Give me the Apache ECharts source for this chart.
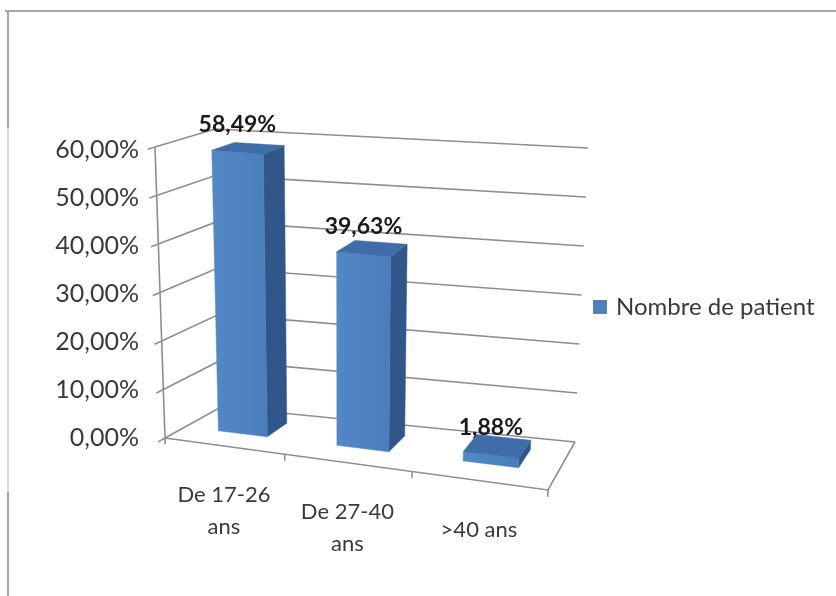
<!DOCTYPE html>
<html>
<head>
<meta charset="utf-8">
<title>Nombre de patient par tranche d'âge</title>
<script src="https://cdn.jsdelivr.net/npm/echarts@6/dist/echarts.min.js"></script>
<style>
  html, body { margin: 0; padding: 0; background: #ffffff; }
  #chart { width: 836px; height: 596px; }
</style>
</head>
<body>
<div id="chart"></div>
<script>
// ---- data ----
const categories = ['De 17-26\nans', 'De 27-40\nans', '>40 ans'];
const patientShare = [58.49, 39.63, 1.88];
const valueTicks = [0, 10, 20, 30, 40, 50, 60];
const seriesName = 'Nombre de patient';

// ---- 3-D view ----
// Screen corners of the plot box: front/back, left/right, bottom/top.
const BOX = {
  flb: [165, 438], frb: [548, 490], blb: [221, 407], brb: [575, 442],
  flt: [155, 147], frt: [559, 182], blt: [215, 129], brt: [588, 148]
};
const PERSPECTIVE_U = 1.1;   // the left side sits farther away
const PERSPECTIVE_Z = 0.75;  // the front sits closer than the back
const BAR_WIDTH = 0.42;      // share of a category band
const BAR_DEPTH = [0.3, 0.7];
const TICK_DEPTH = -0.09;

const COLORS = {
  grid: '#8e8e8e',
  front: '#4A7EBB',
  frontLight: '#5288C6',
  side: '#31578A',
  top: '#3E6DAA',
  axisText: '#3a3a3a',
  labelText: '#1a1a1a'
};
const FONT = 'Lato, "Open Sans", sans-serif';

function warp(t, r) { return t / (t + (1 - t) * r); }
function mix(a, b, t) { return [a[0] + (b[0] - a[0]) * t, a[1] + (b[1] - a[1]) * t]; }
function project(u, w, z) {
  const tu = warp(u, PERSPECTIVE_U);
  const tz = warp(z, PERSPECTIVE_Z);
  const bottom = mix(mix(BOX.flb, BOX.frb, tu), mix(BOX.blb, BOX.brb, tu), tz);
  const top = mix(mix(BOX.flt, BOX.frt, tu), mix(BOX.blt, BOX.brt, tu), tz);
  return mix(bottom, top, w);
}
// Turn a (category, value) pair into box fractions through the chart's own axes.
function toBox(params, api, cat, value) {
  const cs = params.coordSys;
  const p = api.coord([cat, value]);
  return { u: (p[0] - cs.x) / cs.width, w: (cs.y + cs.height - p[1]) / cs.height };
}
function bandFraction(params, api) {
  return api.size([1, 0])[0] / params.coordSys.width;
}
function formatPercent(v) {
  return v.toFixed(2).replace('.', ',') + '%';
}
function line(points, width) {
  return {
    type: 'polyline',
    shape: { points: points },
    style: { stroke: COLORS.grid, lineWidth: width || 1.6, fill: null }
  };
}

// Back-wall and side-wall gridlines, one per axis tick.
function renderWallLine(params, api) {
  const b = toBox(params, api, 0, api.value(1));
  return line([
    project(0, b.w, TICK_DEPTH),
    project(0, b.w, 0),
    project(0, b.w, 1),
    project(1, b.w, 1)
  ]);
}

// Value axis line, floor edges and category ticks.
function renderFrame(params, api) {
  const children = [
    line([project(0, 0, 0), project(0, 1, 0)]),
    line([project(0, 0, 0), project(1, 0, 0), project(1, 0, 1)])
  ];
  const band = bandFraction(params, api);
  for (let k = 0; k <= categories.length; k++) {
    const u = k * band;
    children.push(line([project(u, 0, 0), project(u, -0.022, 0)]));
  }
  return { type: 'group', children: children };
}

// Category names under the front edge of the floor.
function renderCategoryLabel(params, api) {
  const i = api.value(0);
  const b = toBox(params, api, i, 0);
  const anchor = project(b.u, 0, 0);
  return {
    type: 'text',
    x: anchor[0],
    y: anchor[1] + 33,
    style: {
      text: categories[i],
      align: 'center',
      verticalAlign: 'top',
      fontFamily: FONT,
      fontSize: 22,
      lineHeight: 32,
      fill: COLORS.axisText
    }
  };
}

// A 3-D column with its front, right and top faces plus the value label.
function renderColumn(params, api) {
  const i = api.value(0);
  const value = api.value(1);
  const b = toBox(params, api, i, value);
  const half = bandFraction(params, api) * BAR_WIDTH / 2;
  const u0 = b.u - half, u1 = b.u + half;
  const z0 = BAR_DEPTH[0], z1 = BAR_DEPTH[1];
  const w = b.w;
  const face = (pts, fill) => ({
    type: 'polygon',
    shape: { points: pts },
    style: { fill: fill, stroke: fill, lineWidth: 0.5 }
  });
  const front = [project(u0, 0, z0), project(u1, 0, z0), project(u1, w, z0), project(u0, w, z0)];
  const side = [project(u1, 0, z0), project(u1, 0, z1), project(u1, w, z1), project(u1, w, z0)];
  const top = [project(u0, w, z0), project(u1, w, z0), project(u1, w, z1), project(u0, w, z1)];
  const labelAt = project(b.u, w, z0);
  return {
    type: 'group',
    children: [
      face(side, COLORS.side),
      face(front, {
        type: 'linear', x: 0, y: 0, x2: 1, y2: 0,
        colorStops: [
          { offset: 0, color: COLORS.frontLight },
          { offset: 1, color: COLORS.front }
        ]
      }),
      face(top, COLORS.top),
      {
        type: 'text',
        x: labelAt[0],
        y: labelAt[1] - 16,
        style: {
          text: formatPercent(value),
          align: 'center',
          verticalAlign: 'bottom',
          fontFamily: FONT,
          fontWeight: 'bold',
          fontSize: 23,
          fill: COLORS.labelText
        }
      }
    ]
  };
}

const chart = echarts.init(document.getElementById('chart'), null, { renderer: 'canvas' });
chart.setOption({
  animation: false,
  backgroundColor: '#ffffff',
  graphic: [
    { type: 'line', shape: { x1: 5, y1: 11, x2: 836, y2: 11 }, style: { stroke: '#a6a6a6', lineWidth: 2 } },
    { type: 'line', shape: { x1: 8, y1: 10, x2: 8, y2: 128 }, style: { stroke: '#a6a6a6', lineWidth: 2 } },
    { type: 'line', shape: { x1: 8, y1: 128, x2: 8, y2: 492 }, style: { stroke: '#dadada', lineWidth: 2 } },
    { type: 'line', shape: { x1: 8, y1: 492, x2: 8, y2: 596 }, style: { stroke: '#a6a6a6', lineWidth: 2 } }
  ],
  legend: {
    data: [seriesName],
    left: 593,
    top: 295,
    padding: 0,
    icon: 'rect',
    itemWidth: 14,
    itemHeight: 14,
    textStyle: { fontFamily: FONT, fontSize: 24, color: COLORS.axisText, padding: [0, 0, 0, 4] }
  },
  grid: { left: 155, top: 150, width: 393, height: 288 },
  xAxis: { type: 'category', data: categories, show: false },
  yAxis: {
    type: 'value',
    min: 0,
    max: 60,
    interval: 10,
    axisLine: { show: false },
    axisTick: { show: false },
    splitLine: { show: false },
    axisLabel: {
      formatter: formatPercent,
      fontFamily: FONT,
      fontSize: 25,
      color: COLORS.axisText,
      margin: 16
    }
  },
  series: [
    {
      type: 'custom', name: 'walls', silent: true, z: 1,
      data: valueTicks.map(v => [0, v]),
      renderItem: renderWallLine
    },
    {
      type: 'custom', name: 'frame', silent: true, z: 1,
      data: [[0, 0]],
      renderItem: renderFrame
    },
    {
      type: 'custom', name: 'categories', silent: true, z: 2,
      data: categories.map((c, i) => [i, 0]),
      renderItem: renderCategoryLabel
    },
    {
      type: 'custom', name: seriesName, z: 3,
      itemStyle: { color: '#4F81BD' },
      data: patientShare.map((v, i) => [i, v]),
      renderItem: renderColumn
    }
  ]
});
</script>
</body>
</html>
